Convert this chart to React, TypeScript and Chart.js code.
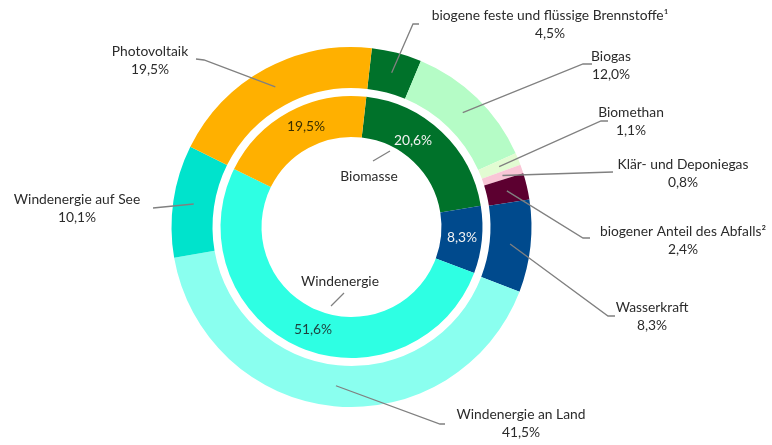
import React, { useEffect, useRef } from 'react';
import { Chart, registerables } from 'chart.js';

Chart.register(...registerables);

// ---- data ----
const outerLabels = [
  'biogene feste und flüssige Brennstoffe¹',
  'Biogas',
  'Biomethan',
  'Klär- und Deponiegas',
  'biogener Anteil des Abfalls²',
  'Wasserkraft',
  'Windenergie an Land',
  'Windenergie auf See',
  'Photovoltaik',
];
const outerValues = [4.5, 12.0, 1.1, 0.8, 2.4, 8.3, 41.5, 10.1, 19.5];
const outerColors = ['#00722A', '#B5FCC6', '#E2FCD2', '#F9C6D6', '#5C0030', '#004A8D', '#8AFFEF', '#00E3CC', '#FFB000'];

const innerLabels = ['Biomasse', 'Wasserkraft', 'Windenergie', 'Photovoltaik'];
const innerValues = [20.6, 8.3, 51.6, 19.5];
const innerColors = ['#00722A', '#004A8D', '#2EFFE3', '#FFB000'];

// ---- annotation layout (pixel positions of text / leader starts) ----
const outerLabelPos: [number, number][] = [
  [550, 16], [611, 57], [631, 113], [683, 165], [683, 232], [652, 308], [521, 415], [77, 200], [150, 52],
];
const outerLeaderStart: [number, number][][] = [
  [[419, 24], [413, 24]],
  [[592, 64], [583, 64]],
  [[608, 121], [601, 121]],
  [[613, 172]],
  [[590, 238], [583, 238]],
  [[615, 316], [608, 316]],
  [[445, 424], [440, 424]],
  [[153, 208]],
  [[196, 59], [204, 60]],
];
const innerPctPos: [number, number][] = [[413, 141], [462, 238], [313, 330], [306, 127]];
const innerPctColor = ['#F2F2F2', '#F2F2F2', '#1F3F3D', '#3A3000'];
const innerNamePos: Record<string, [number, number]> = { Biomasse: [369, 177], Windenergie: [340, 282] };
const innerNameLeader: Record<string, [number, number][]> = {
  Biomasse: [[373, 161], [390, 151]],
  Windenergie: [[331, 306], [344, 293]],
};

const fmt = (v: number) => v.toFixed(1).replace('.', ',') + '%';
const FONT = '13.8px Lato';
const TEXT = '#2B2B2B';
const LINE = '#808080';

const annotations = {
  id: 'annotations',
  afterDatasetsDraw(chart: any) {
    const ctx = chart.ctx as CanvasRenderingContext2D;
    ctx.save();
    ctx.strokeStyle = LINE;
    ctx.lineWidth = 1.3;
    const outer = chart.getDatasetMeta(0);
    outer.data.forEach((arc: any, i: number) => {
      const c = arc.getCenterPoint();
      const pts = outerLeaderStart[i];
      ctx.beginPath();
      ctx.moveTo(pts[0][0], pts[0][1]);
      for (let k = 1; k < pts.length; k++) ctx.lineTo(pts[k][0], pts[k][1]);
      ctx.lineTo(c.x, c.y);
      ctx.stroke();
    });
    innerLabels.forEach((name) => {
      const l = innerNameLeader[name];
      if (!l) return;
      ctx.beginPath();
      ctx.moveTo(l[0][0], l[0][1]);
      ctx.lineTo(l[1][0], l[1][1]);
      ctx.stroke();
    });

    ctx.font = FONT;
    ctx.textAlign = 'center';
    ctx.textBaseline = 'middle';
    ctx.fillStyle = TEXT;
    outerLabels.forEach((name, i) => {
      const [x, y] = outerLabelPos[i];
      ctx.fillText(name, x, y);
      ctx.fillText(fmt(outerValues[i]), x, y + 18);
    });
    innerLabels.forEach((name, i) => {
      const p = innerNamePos[name];
      if (p) {
        ctx.fillStyle = TEXT;
        ctx.fillText(name, p[0], p[1]);
      }
      const [x, y] = innerPctPos[i];
      ctx.fillStyle = innerPctColor[i];
      ctx.fillText(fmt(innerValues[i]), x, y);
    });
    ctx.restore();
  },
};

export default function App() {
  const ref = useRef<HTMLCanvasElement | null>(null);
  useEffect(() => {
    if (!ref.current) return;
    const chart = new Chart(ref.current, {
      type: 'doughnut',
      data: {
        labels: outerLabels,
        datasets: [
          { data: outerValues, backgroundColor: outerColors, borderWidth: 0, weight: 41 } as any,
          { data: [1], backgroundColor: ['rgba(0,0,0,0)'], borderWidth: 0, weight: 8 } as any,
          { data: innerValues, backgroundColor: innerColors, borderWidth: 0, weight: 41 } as any,
        ],
      },
      options: {
        responsive: false,
        devicePixelRatio: 1,
        animation: false,
        radius: 180,
        cutout: '50%',
        rotation: 6.5,
        layout: { padding: { left: 0, right: 69, top: 9, bottom: 0 } },
        plugins: { legend: { display: false }, tooltip: { enabled: false } },
        events: [],
      } as any,
      plugins: [annotations],
    });
    return () => chart.destroy();
  }, []);
  return (
    <div style={{ position: 'fixed', left: 0, top: 0, width: 772, height: 445, background: '#fff' }}>
      <canvas ref={ref} width={772} height={445} style={{ display: 'block' }} />
    </div>
  );
}
